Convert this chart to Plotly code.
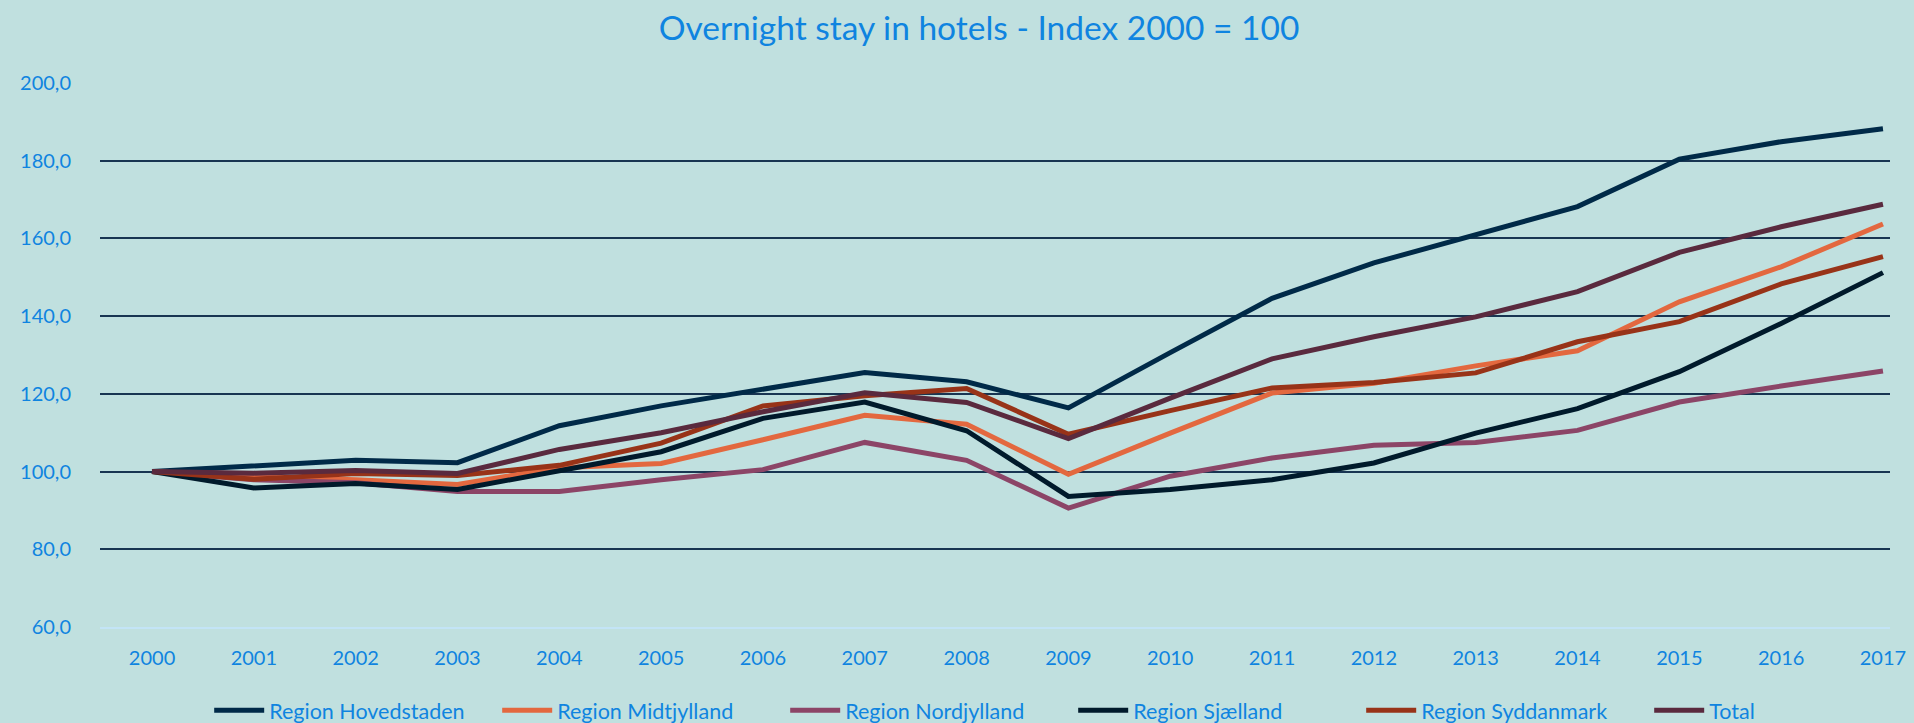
import plotly.graph_objects as go

years = list(range(2000, 2018))

hovedstaden = [100, 101.5, 102.9, 102.3, 111.8, 116.9, 121.3, 125.5, 123.1, 116.4, 130.6, 144.6, 153.7, 160.9, 168.2, 180.4, 184.9, 188.2]
midtjylland = [100, 98.6, 97.9, 96.7, 101.0, 102.1, 108.2, 114.5, 112.2, 99.3, 109.9, 120.2, 122.7, 127.2, 131.1, 143.7, 152.7, 163.7]
nordjylland = [100, 97.9, 97.1, 94.9, 94.9, 97.9, 100.5, 107.5, 102.9, 90.6, 98.8, 103.5, 106.8, 107.5, 110.6, 117.9, 122.0, 125.9]
sjaelland = [100, 95.8, 96.9, 95.4, 100.2, 105.1, 113.7, 117.9, 110.5, 93.6, 95.4, 97.9, 102.2, 109.9, 116.2, 125.7, 138.1, 151.2]
syddanmark = [100, 98.0, 99.5, 99.0, 101.6, 107.3, 116.9, 119.5, 121.4, 109.6, 115.7, 121.5, 122.9, 125.4, 133.4, 138.6, 148.3, 155.3]
total = [100, 99.6, 100.3, 99.5, 105.7, 110.0, 115.4, 120.3, 117.8, 108.5, 118.9, 129.0, 134.7, 139.8, 146.3, 156.4, 163.0, 168.8]

series_names = ["Region Hovedstaden", "Region Midtjylland", "Region Nordjylland",
                "Region Sjælland", "Region Syddanmark", "Total"]
series_values = [hovedstaden, midtjylland, nordjylland, sjaelland, syddanmark, total]
series_colors = ["#002A48", "#E3683F", "#8C4567", "#001A2B", "#983318", "#5A2A3E"]

y_ticks = [60, 80, 100, 120, 140, 160, 180, 200]

text_color = "#0F84E0"
font_family = "Lato, 'Open Sans', sans-serif"

fig = go.Figure()
for name, vals, col in zip(series_names, series_values, series_colors):
    fig.add_trace(go.Scatter(
        x=years, y=vals, name=name, mode="lines",
        line=dict(color=col, width=5),
    ))

fig.update_layout(
    width=1914, height=723,
    paper_bgcolor="#C0E0DF",
    plot_bgcolor="#C0E0DF",
    margin=dict(l=100, r=24, t=83, b=96, pad=0, autoexpand=False),
    separators=", ",
    font=dict(family=font_family, color=text_color, size=20),
    title=dict(
        text="Overnight stay in hotels - Index 2000 = 100",
        x=0.5115, xanchor="center", xref="container", y=0.961, yanchor="middle",
        font=dict(size=33.5, color=text_color, family=font_family),
    ),
    showlegend=True,
    legend=dict(
        orientation="h", x=0.061, xanchor="left", y=-0.153, yanchor="middle",
        font=dict(size=21.5, color=text_color, family=font_family),
        bgcolor="rgba(0,0,0,0)",
        itemwidth=50,
        entrywidth=223, entrywidthmode="pixels",
        traceorder="normal",
    ),
    xaxis=dict(
        range=[1999.489, 2017.069],
        tickmode="array", tickvals=years, ticktext=[str(y) for y in years],
        showgrid=False, zeroline=False,
        showline=True, linecolor="#C3E4F6", linewidth=2,
        ticks="", ticklabelstandoff=12,
        tickfont=dict(size=20, color=text_color, family=font_family),
    ),
    yaxis=dict(
        range=[60, 200],
        tickmode="array", tickvals=y_ticks,
        tickformat=".1f",
        showgrid=True, gridcolor="#183552", gridwidth=2,
        zeroline=False, showline=False,
        ticks="", ticklabelstandoff=28,
        tickfont=dict(size=20, color=text_color, family=font_family),
    ),
)

fig.write_html(
    "out.html",
    config={"displayModeBar": False},
    post_script="document.body.style.margin='0';document.body.style.padding='0';"
                "document.body.style.overflow='hidden';"
                "document.documentElement.style.overflow='hidden';",
)
